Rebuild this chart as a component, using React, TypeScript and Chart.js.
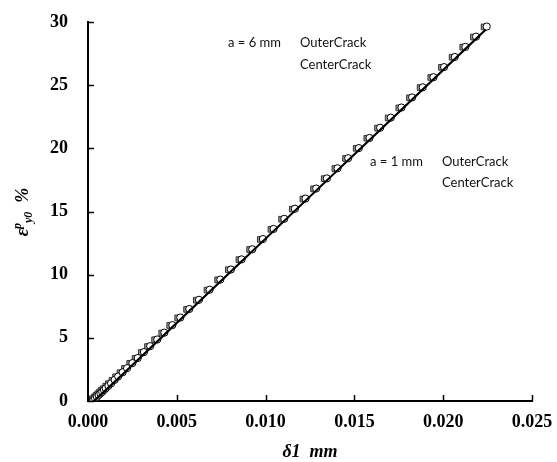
import React, { useEffect, useRef } from 'react';
import { Chart, registerables } from 'chart.js';

Chart.register(...registerables);

// ---- data ----
const xMin = 0;
const xMax = 0.025;
const xStep = 0.005;
const yMin = 0;
const yMax = 30;
const yStep = 5;

// a = 6 mm, OuterCrack (grey squares)
const outer6X = [0.00025, 0.00035, 0.00045, 0.00055, 0.00065, 0.00075, 0.00085, 0.001, 0.00115, 0.00135, 0.00155, 0.0018, 0.00205, 0.00235, 0.00265, 0.003, 0.00335, 0.00375, 0.00415, 0.0046, 0.00505, 0.00555, 0.0061, 0.0067, 0.0073, 0.0079, 0.0085, 0.0091, 0.0097, 0.0103, 0.0109, 0.0115, 0.0121, 0.0127, 0.0133, 0.0139, 0.0145, 0.0151, 0.0157, 0.0163, 0.0169, 0.0175, 0.0181, 0.0187, 0.0193, 0.0199, 0.0205, 0.0211, 0.0217, 0.0223];
const outer6Y = [0.17, 0.31, 0.44, 0.57, 0.71, 0.84, 0.97, 1.17, 1.37, 1.64, 1.91, 2.24, 2.58, 2.98, 3.38, 3.84, 4.31, 4.85, 5.38, 5.98, 6.58, 7.25, 7.98, 8.78, 9.59, 10.39, 11.19, 11.99, 12.79, 13.59, 14.39, 15.19, 15.99, 16.79, 17.6, 18.4, 19.2, 20.0, 20.8, 21.6, 22.4, 23.2, 24.0, 24.81, 25.61, 26.41, 27.21, 28.01, 28.81, 29.61];

// a = 6 mm, CenterCrack (white circles)
const center6X = [0.0003, 0.0004, 0.0005, 0.0006, 0.0007, 0.0008, 0.0009, 0.001, 0.00115, 0.0013, 0.0015, 0.0017, 0.00195, 0.0022, 0.0025, 0.0028, 0.00315, 0.0035, 0.0039, 0.0043, 0.00475, 0.0052, 0.0057, 0.00625, 0.00685, 0.00745, 0.00805, 0.00865, 0.00925, 0.00985, 0.01045, 0.01105, 0.01165, 0.01225, 0.01285, 0.01345, 0.01405, 0.01465, 0.01525, 0.01585, 0.01645, 0.01705, 0.01765, 0.01825, 0.01885, 0.01945, 0.02005, 0.02065, 0.02125, 0.02185, 0.02245];
const center6Y = [0.07, 0.2, 0.33, 0.47, 0.6, 0.73, 0.87, 1.0, 1.2, 1.4, 1.67, 1.94, 2.27, 2.6, 3.0, 3.4, 3.87, 4.34, 4.87, 5.41, 6.01, 6.61, 7.28, 8.01, 8.81, 9.61, 10.41, 11.21, 12.01, 12.82, 13.62, 14.42, 15.22, 16.02, 16.82, 17.62, 18.42, 19.22, 20.02, 20.82, 21.63, 22.43, 23.23, 24.03, 24.83, 25.63, 26.43, 27.23, 28.03, 28.84, 29.64];

// a = 1 mm, OuterCrack (line)
const outer1X = [0.0003, 0.001, 0.002, 0.004, 0.006, 0.008, 0.01, 0.012, 0.014, 0.016, 0.018, 0.02, 0.022, 0.02235];
const outer1Y = [0.0, 0.9, 2.22, 4.88, 7.55, 10.22, 12.88, 15.55, 18.22, 20.89, 23.56, 26.23, 28.9, 29.37];

// a = 1 mm, CenterCrack (line)
const center1X = [0.00035, 0.001, 0.002, 0.004, 0.006, 0.008, 0.01, 0.012, 0.014, 0.016, 0.018, 0.02, 0.022, 0.0224];
const center1Y = [0.0, 0.8, 2.14, 4.81, 7.48, 10.15, 12.82, 15.49, 18.16, 20.83, 23.5, 26.17, 28.84, 29.37];

const legend6Label = 'a = 6 mm';
const legend1Label = 'a = 1 mm';
const outerLabel = 'OuterCrack';
const centerLabel = 'CenterCrack';

const toPoints = (xs: number[], ys: number[]) => xs.map((x, i) => ({ x, y: ys[i] }));

const W = 557;
const H = 462;

const decorPlugin = {
  id: 'decor',
  afterDraw(chart: any) {
    const ctx = chart.ctx as CanvasRenderingContext2D;
    const area = chart.chartArea;
    const xs = chart.scales.x;
    const ys = chart.scales.y;
    ctx.save();
    ctx.strokeStyle = '#000';
    ctx.lineWidth = 1.5;
    xs.ticks.forEach((t: any) => {
      const px = Math.round(xs.getPixelForValue(t.value)) + 0.5;
      ctx.beginPath();
      ctx.moveTo(px, area.bottom);
      ctx.lineTo(px, area.bottom - 6);
      ctx.stroke();
    });
    ys.ticks.forEach((t: any) => {
      const py = Math.round(ys.getPixelForValue(t.value)) + 0.5;
      ctx.beginPath();
      ctx.moveTo(area.left, py);
      ctx.lineTo(area.left + 6, py);
      ctx.stroke();
    });

    ctx.fillStyle = '#000';
    ctx.font = 'italic bold 18px "Liberation Serif"';
    ctx.textAlign = 'center';
    ctx.textBaseline = 'middle';
    ctx.fillText('\u03b41  mm', 310, 452);

    ctx.save();
    ctx.translate(22, 212);
    ctx.rotate(-Math.PI / 2);
    ctx.textAlign = 'left';
    ctx.textBaseline = 'alphabetic';
    const big = 'italic bold 18px "Liberation Serif"';
    const small = 'italic bold 12px "Liberation Serif"';
    const parts: [string, string, number][] = [
      ['\u03b5', big, 0],
      ['p', small, -7],
      ['y0', small, 4],
      ['  %', big, 0],
    ];
    let total = 0;
    parts.forEach(([s, f]) => {
      ctx.font = f;
      total += ctx.measureText(s).width;
    });
    let cx = -total / 2;
    parts.forEach(([s, f, dy]) => {
      ctx.font = f;
      ctx.fillText(s, cx, 6 + dy);
      cx += ctx.measureText(s).width;
    });
    ctx.restore();

    ctx.font = '13px Lato';
    ctx.fillStyle = '#111';
    ctx.textAlign = 'left';
    ctx.textBaseline = 'middle';
    ctx.fillText(legend6Label, 228, 43);
    ctx.fillText(outerLabel, 300, 43);
    ctx.fillText(centerLabel, 300, 65);
    ctx.fillText(legend1Label, 370, 162);
    ctx.fillText(outerLabel, 442, 162);
    ctx.fillText(centerLabel, 442, 183);
    ctx.restore();
  },
};

export default function App() {
  const ref = useRef<HTMLCanvasElement | null>(null);
  useEffect(() => {
    if (!ref.current) return;
    const tickFont = { family: '"Liberation Serif"', size: 18, weight: 'bold' as const };
    const chart = new Chart(ref.current, {
      type: 'scatter',
      data: {
        datasets: [
          { label: legend1Label + ' ' + outerLabel, data: toPoints(outer1X, outer1Y), showLine: true, borderColor: '#000', borderWidth: 1.5, pointRadius: 0, order: 0 },
          { label: legend1Label + ' ' + centerLabel, data: toPoints(center1X, center1Y), showLine: true, borderColor: '#000', borderWidth: 1.5, pointRadius: 0, order: 1 },
          { label: legend6Label + ' ' + centerLabel, data: toPoints(center6X, center6Y), showLine: false, pointStyle: 'circle', pointRadius: 3.6, pointBackgroundColor: '#fff', pointBorderColor: '#000', pointBorderWidth: 1, order: 2 },
          { label: legend6Label + ' ' + outerLabel, data: toPoints(outer6X, outer6Y), showLine: false, pointStyle: 'rect', pointRadius: 4, pointBackgroundColor: '#999', pointBorderColor: '#333', pointBorderWidth: 1, order: 3 },
        ],
      },
      options: {
        animation: false,
        responsive: false,
        maintainAspectRatio: false,
        devicePixelRatio: 1,
        layout: { padding: { left: 0, right: 25, top: 22, bottom: 0 } },
        plugins: { legend: { display: false }, tooltip: { enabled: false }, title: { display: false } },
        scales: {
          x: {
            type: 'linear', min: xMin, max: xMax,
            grid: { display: false, drawTicks: false },
            border: { display: true, color: '#000', width: 2 },
            ticks: { stepSize: xStep, color: '#000', font: tickFont, padding: 11, maxRotation: 0, autoSkip: false, callback: (v: any) => Number(v).toFixed(3) },
            afterFit: (s: any) => { s.height = 61; s.paddingLeft = 0; s.paddingRight = 0; s.paddingTop = 0; s.paddingBottom = 0; },
          },
          y: {
            type: 'linear', min: yMin, max: yMax,
            grid: { display: false, drawTicks: false },
            border: { display: true, color: '#000', width: 2 },
            ticks: { stepSize: yStep, color: '#000', font: tickFont, padding: 20, autoSkip: false },
            afterFit: (s: any) => { s.width = 88; s.paddingLeft = 0; s.paddingRight = 0; s.paddingTop = 0; s.paddingBottom = 0; },
          },
        },
      },
      plugins: [decorPlugin],
    });
    return () => chart.destroy();
  }, []);
  return (
    <div style={{ position: 'absolute', left: 0, top: 0, width: W, height: H, background: '#fff' }}>
      <canvas ref={ref} width={W} height={H} style={{ width: W, height: H, display: 'block' }} />
    </div>
  );
}
